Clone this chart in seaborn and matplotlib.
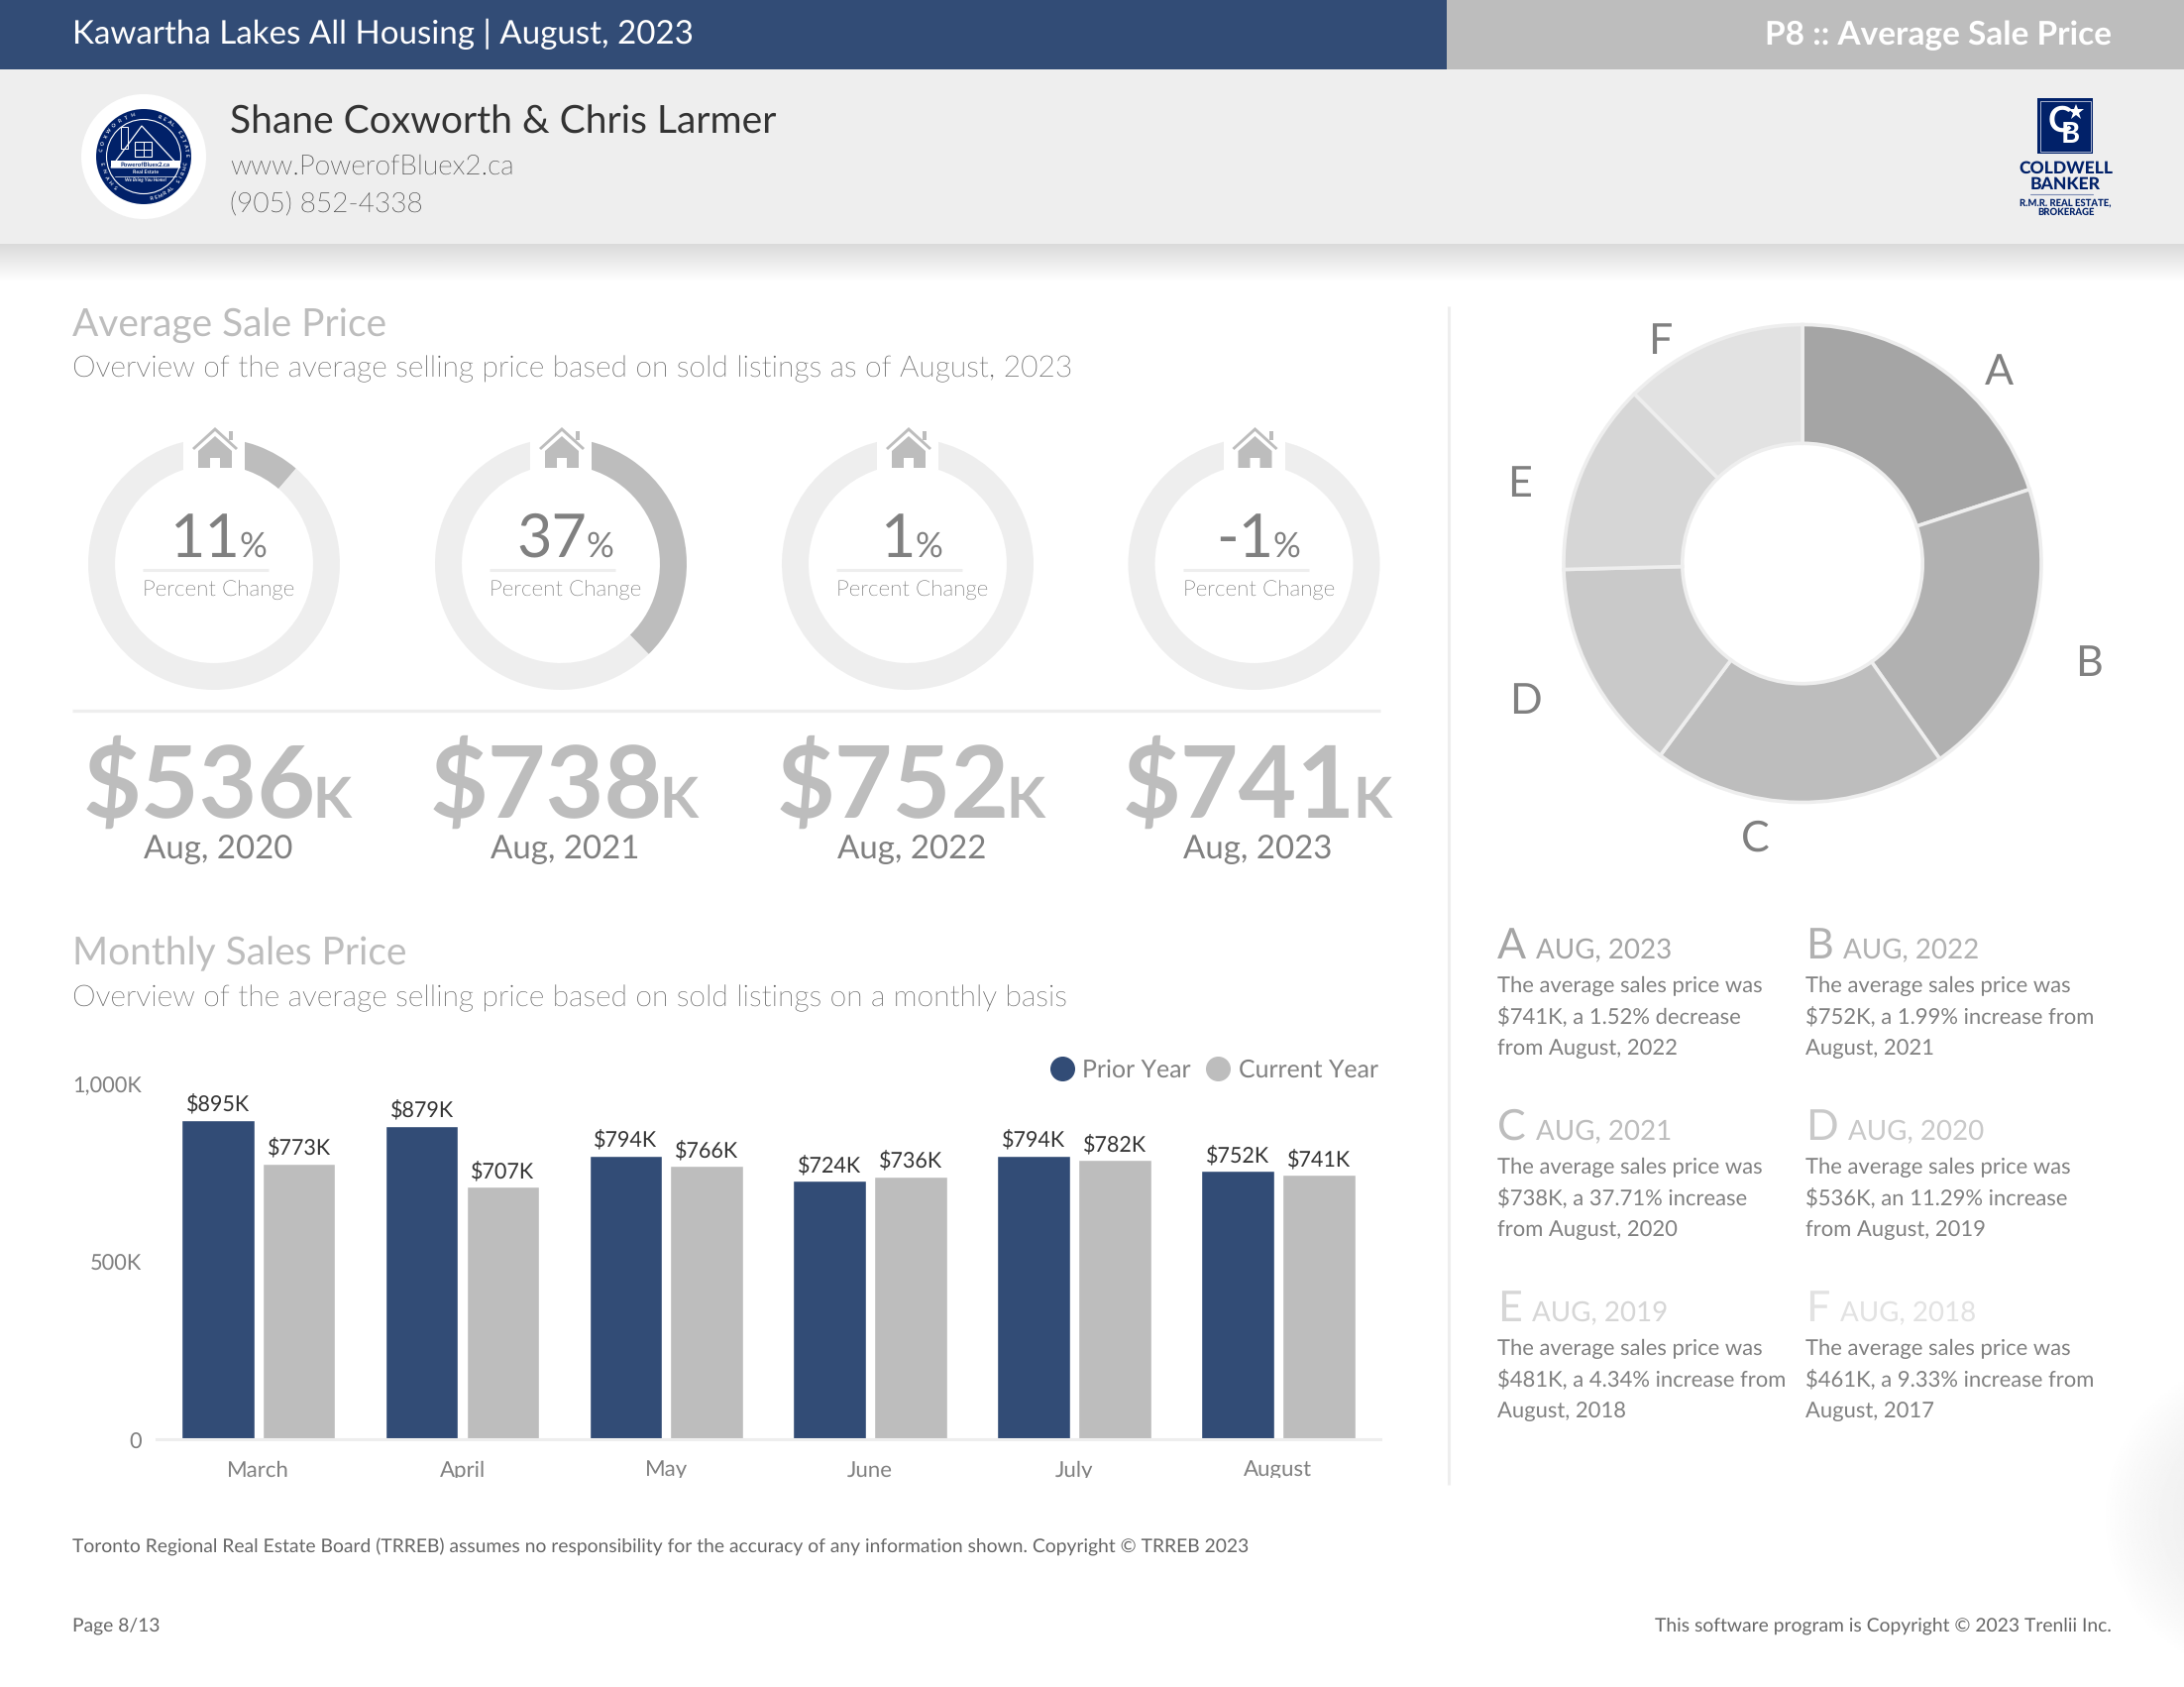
import os
import numpy as np
import pandas as pd
import seaborn as sns
import matplotlib
matplotlib.use("Agg")
import matplotlib.pyplot as plt
from matplotlib import font_manager
from matplotlib.lines import Line2D
from matplotlib.patches import Rectangle, Polygon, Circle
from matplotlib.transforms import ScaledTranslation

# %% data
months = ["March", "April", "May", "June", "July", "August"]
prior_year = [895, 879, 794, 724, 794, 752]
current_year = [773, 707, 766, 736, 782, 741]
series_names = ["Prior Year", "Current Year"]

gauge_labels = ["11", "37", "1", "-1"]
gauge_fill = [11.29, 37.71, 1.99, 0]
gauge_prices = ["$536", "$738", "$752", "$741"]
gauge_dates = ["Aug, 2020", "Aug, 2021", "Aug, 2022", "Aug, 2023"]

pie_letters = ["A", "B", "C", "D", "E", "F"]
pie_prices = [741, 752, 738, 536, 481, 461]
pie_dates = ["AUG, 2023", "AUG, 2022", "AUG, 2021", "AUG, 2020", "AUG, 2019", "AUG, 2018"]
pie_notes = [
    ["The average sales price was", "$741K, a 1.52% decrease", "from August, 2022"],
    ["The average sales price was", "$752K, a 1.99% increase from", "August, 2021"],
    ["The average sales price was", "$738K, a 37.71% increase", "from August, 2020"],
    ["The average sales price was", "$536K, an 11.29% increase", "from August, 2019"],
    ["The average sales price was", "$481K, a 4.34% increase from", "August, 2018"],
    ["The average sales price was", "$461K, a 9.33% increase from", "August, 2017"],
]

# %% style
NAVY = "#324c76"
SEAL = "#012169"
GREY = "#bdbdbd"
PALE = "#eeeeee"
TEXT = "#808080"
LIGHT_TEXT = "#606060"  # the light cut reads paler than the reference at the same grey
pie_colors = ["#a5a5a5", "#b1b1b1", "#bdbdbd", "#c9c9c9", "#d6d6d6", "#e2e2e2"]

sns.set_theme(style="white")
plt.rcParams["font.family"] = ["Lato", "DejaVu Sans"]
plt.rcParams["text.hinting"] = "no_hinting"

# weight="light" lands on the hairline cut, so look the real light file up
light_files = []
for f in font_manager.fontManager.ttflist:
    base = os.path.basename(f.fname).lower()
    if "lato" in base and "light" in base and "italic" not in base and "hair" not in base:
        light_files.append(f.fname)

W, H = 2204, 1702
fig = plt.figure(figsize=(W / 100, H / 100), dpi=100, facecolor="white")


def axes_px(left, top, width, height, **kw):
    return fig.add_axes([left / W, 1 - (top + height) / H, width / W, height / H], **kw)


# %% bars
ax = axes_px(157.8, 1092, 1235, 360)
bars = pd.DataFrame(dict(
    month=months * 2,
    price=prior_year + current_year,
    series=[series_names[0]] * 6 + [series_names[1]] * 6,
))
sns.barplot(
    data=bars,
    x="month",
    y="price",
    hue="series",
    palette=[NAVY, GREY],
    saturation=1,
    width=.795,
    gap=.10,
    legend=False,
    ax=ax,
)
for c in ax.containers:
    ax.bar_label(c, labels=[f"${v:.0f}K" for v in c.datavalues], padding=4,
                 fontsize=15.5, color="#333333")
ax.set_xlim(-.5, 5.5)
ax.set_ylim(0, 1000)
ax.set_yticks([0, 500, 1000], ["0", "500K", "1,000K"])
ax.set_xlabel("")
ax.set_ylabel("")
ax.tick_params(axis="y", length=0, pad=11, labelsize=15.7, labelcolor=TEXT)
ax.tick_params(axis="x", length=0, pad=15.5, labelsize=16, labelcolor=TEXT)
for label in ax.get_yticklabels():
    label.set_transform(label.get_transform() + ScaledTranslation(0, -2 / 100, fig.dpi_scale_trans))
sns.despine(ax=ax, left=True)
ax.spines["bottom"].set_color(PALE)
ax.spines["bottom"].set_linewidth(2.2)
ax.patch.set_alpha(0)
ax.legend(
    handles=[Line2D([], [], ls="", marker="o", ms=17, color=c) for c in (NAVY, GREY)],
    labels=series_names,
    ncol=2,
    frameon=False,
    loc="center right",
    bbox_to_anchor=(.9985, 1.033),
    fontsize=17.9,
    labelcolor=TEXT,
    handlelength=1,
    handletextpad=.33,
    columnspacing=.6,
    borderaxespad=0,
    borderpad=0,
)


# %% rings
def ring(cx, cy, r, values, colors, width, start=90, **kw):
    a = axes_px(cx - r * 1.05, cy - r * 1.05, r * 2.1, r * 2.1)
    a.pie(values, colors=colors, startangle=start, counterclock=False, radius=1,
          wedgeprops=dict(width=width, **kw))
    a.set_xlim(-1.05, 1.05)
    a.set_ylim(-1.05, 1.05)
    a.set_aspect("equal")
    a.axis("off")
    return a


gauge_x = [216, 566, 916, 1265.5]
for x, fill in zip(gauge_x, gauge_fill):
    ring(x, 569, 127, [fill, 100 - fill], [GREY, PALE], .213, linewidth=0)

ring(1819, 568.5, 241, pie_prices, pie_colors, .497, linewidth=2.6, edgecolor=PALE)

# %% page furniture, one pixel per data unit
page = fig.add_axes([0, 0, 1, 1], zorder=5)
page.set_xlim(0, W)
page.set_ylim(H, 0)
page.axis("off")
page.patch.set_alpha(0)
renderer = fig.canvas.get_renderer()


def box(x0, y0, x1, y1, color, z=1):
    page.add_patch(Rectangle((x0, y0), x1 - x0, y1 - y0, fc=color, ec="none", zorder=z))


def txt(x, y, s, size, color=TEXT, weight="normal", ha="left", va="baseline", **kw):
    if weight == "light":
        if light_files:
            kw["fontproperties"] = font_manager.FontProperties(fname=light_files[0], size=size)
            return page.text(x, y, s, color=color, ha=ha, va=va, zorder=6, **kw)
        weight = "normal"
    return page.text(x, y, s, fontsize=size, color=color, fontweight=weight,
                     ha=ha, va=va, zorder=6, **kw)


def width_of(t):
    return t.get_window_extent(renderer).width


# header
box(0, 0, 1460, 70, NAVY)
box(1460, 0, W, 70, GREY)
box(0, 70, W, 246, PALE)
shadow = np.linspace(.82, 1, 40).reshape(-1, 1) ** .8
page.imshow(shadow, cmap="gray", vmin=0, vmax=1, extent=(0, W, 284, 246), aspect="auto", zorder=1)
# soft smudge at the right edge
gx, gy = np.meshgrid(np.linspace(2120, W, 80), np.linspace(1380, 1690, 120))
smudge = np.clip(((gx - 2290) / 170) ** 2 + ((gy - 1530) / 165) ** 2, 0, 1)
page.imshow(1 - .075 * (1 - smudge), cmap="gray", vmin=0, vmax=1,
            extent=(2120, W, 1690, 1380), aspect="auto", zorder=1)
page.set_xlim(0, W)
page.set_ylim(H, 0)

txt(73, 44, "Kawartha Lakes All Housing | August, 2023", 23.9, "white")
txt(2131, 45, "P8 :: Average Sale Price", 24, "white", "bold", ha="right")
txt(232, 135, "Shane Coxworth & Chris Larmer", 28.1, "#333333")
txt(232, 176, "www.PowerofBluex2.ca", 20.2, "#3c3c3c", "light")
txt(232, 213.5, "(905) 852-4338", 20.2, "#3c3c3c", "light")

# agent seal
page.add_patch(Circle((145, 158), 63, fc="white", ec="none", zorder=2))
page.add_patch(Circle((145, 158), 48, fc=SEAL, ec="none", zorder=2))
page.add_patch(Circle((145, 158), 37.5, fc="none", ec="white", lw=.8, zorder=3))
page.add_patch(Polygon([(143, 127), (112, 169), (182, 169)], fc="none", ec="white", lw=.9, zorder=3))
page.add_patch(Rectangle((122, 128), 7, 22, fc="none", ec="white", lw=.7, zorder=3))
page.add_patch(Rectangle((136, 143), 17, 15, fc="none", ec="white", lw=.8, zorder=3))
page.plot([144.5, 144.5], [143, 158], c="white", lw=.7, zorder=3)
page.plot([136, 153], [150.5, 150.5], c="white", lw=.7, zorder=3)
box(112, 162, 182, 169, "white", 3)
txt(147, 168, "PowerofBluex2.ca", 4.4, SEAL, "bold", ha="center")
txt(147, 175, "Real Estate", 3.8, "white", "bold", ha="center")
page.plot([116, 178], [178, 178], c="white", lw=.5, zorder=3)
txt(147, 183, "We Bring You Home!", 3.4, "white", "bold", ha="center", style="italic")
for word, start, step in [("SHANE COXWORTH", 222, 9.5), ("REAL ESTATE", 22, 6.6), ("CHRIS LARMER", 100, 6.3)]:
    for i, ch in enumerate(word):
        deg = (start + i * step) % 360
        ang = np.radians(deg)
        px = 145 + 43 * np.sin(ang)
        py = 158 - 43 * np.cos(ang)
        rot = -deg if deg < 90 or deg > 270 else 180 - deg
        txt(px, py, ch, 3.6, "white", "bold", ha="center", va="center", rotation=rot, rotation_mode="anchor")

# brokerage mark
box(2056, 99, 2112, 155, SEAL, 2)
page.add_patch(Rectangle((2058.5, 101.5), 51, 51, fc="none", ec="#c7cde0", lw=.6, zorder=3))
txt(2079, 122.5, "C", 26, "white", "bold", ha="center", va="center")
txt(2089, 136, "B", 21, "white", "bold", ha="center", va="center")
page.plot([2095], [113], ls="", marker="*", ms=12, c="white", mew=0, zorder=6)
txt(2084.5, 175, "COLDWELL", 12.6, SEAL, "black", ha="center")
txt(2084.5, 191, "BANKER", 12.6, SEAL, "black", ha="center")
page.plot([2049, 2112], [196, 196], c="#7d8cb5", lw=.8, zorder=3)
txt(2084.5, 208, "R.M.R. REAL ESTATE,", 6.85, SEAL, "black", ha="center")
txt(2084.5, 216.5, "BROKERAGE", 6.85, SEAL, "black", ha="center")

# section headings
txt(73, 339, "Average Sale Price", 28, GREY)
txt(73, 380, "Overview of the average selling price based on sold listings as of August, 2023", 21.6, LIGHT_TEXT, "light")
txt(73, 973, "Monthly Sales Price", 28, GREY)
txt(73, 1015, "Overview of the average selling price based on sold listings on a monthly basis", 21.6, LIGHT_TEXT, "light")
page.plot([73, 1393], [717, 717], c=PALE, lw=2.4, zorder=2, solid_capstyle="butt")
page.plot([1462, 1462], [309, 1498], c=PALE, lw=2.2, zorder=2, solid_capstyle="butt")

# gauge captions and house icons
for x, label, price, date in zip(gauge_x, gauge_labels, gauge_prices, gauge_dates):
    box(x - 31, 428, x + 31, 474, "white", 2)
    page.add_patch(Polygon(
        [(x + 1, 431), (x + 24, 452), (x + 22, 454), (x + 1, 435), (x - 20, 454), (x - 22, 452)],
        fc=GREY, ec="none", zorder=3))
    page.add_patch(Polygon(
        [(x + 1, 440), (x + 18, 455), (x + 18, 472), (x + 6, 472), (x + 6, 462), (x - 4, 462),
         (x - 4, 472), (x - 16, 472), (x - 16, 455)],
        fc=GREY, ec="none", zorder=3))
    box(x + 15, 435, x + 19, 444, GREY, 3)

    num = txt(0, 562, label, 44, TEXT)
    pct = txt(0, 562, "%", 25, TEXT)
    w1, w2 = width_of(num), width_of(pct)
    left = x + 5 - (w1 + w2) / 2
    num.set_x(left)
    pct.set_x(left + w1 - 1)
    page.plot([x - 72, x + 55], [575, 575], c=PALE, lw=2.2, zorder=2, solid_capstyle="butt")
    txt(x - 72, 602, "Percent Change", 16.1, LIGHT_TEXT, "light")

    big = txt(x - 132.5, 825, price, 73, GREY, "bold")
    txt(x - 132.5 + width_of(big) - 3, 825, "K", 41, GREY, "bold")
    txt(x - 71, 866, date, 23.8, TEXT)

# pie letters
letter_x = [2017, 2108, 1771, 1539, 1533, 1675]
letter_y = [388, 682, 859, 720, 501, 357]
for x, y, s in zip(letter_x, letter_y, pie_letters):
    txt(x, y, s, 31, TEXT, ha="center")

# notes under the pie
col_x = [1511, 1822.5]
row_y = [967, 1150, 1333]
for i, (s, color, date, note) in enumerate(zip(pie_letters, pie_colors, pie_dates, pie_notes)):
    x, y = col_x[i % 2], row_y[i // 2]
    t = txt(x, y, s, 31, color)
    txt(x + width_of(t) + 10, y, date, 20, color)
    for j, line in enumerate(note):
        txt(x, y + 34 + j * 31.7, line, 15.85, TEXT)

# footer
txt(73, 1567, "Toronto Regional Real Estate Board (TRREB) assumes no responsibility for the accuracy of any information shown. Copyright © TRREB 2023", 13.9, "#666666")
txt(73, 1646, "Page 8/13", 13.9, "#666666")
txt(2131, 1646, "This software program is Copyright © 2023 Trenlii Inc.", 13.9, "#666666", ha="right")

# chart month labels are cut off at the bottom in the page
box(140, 1491, 1420, 1520, "white", 2)

fig.savefig("out.png", dpi=100)
